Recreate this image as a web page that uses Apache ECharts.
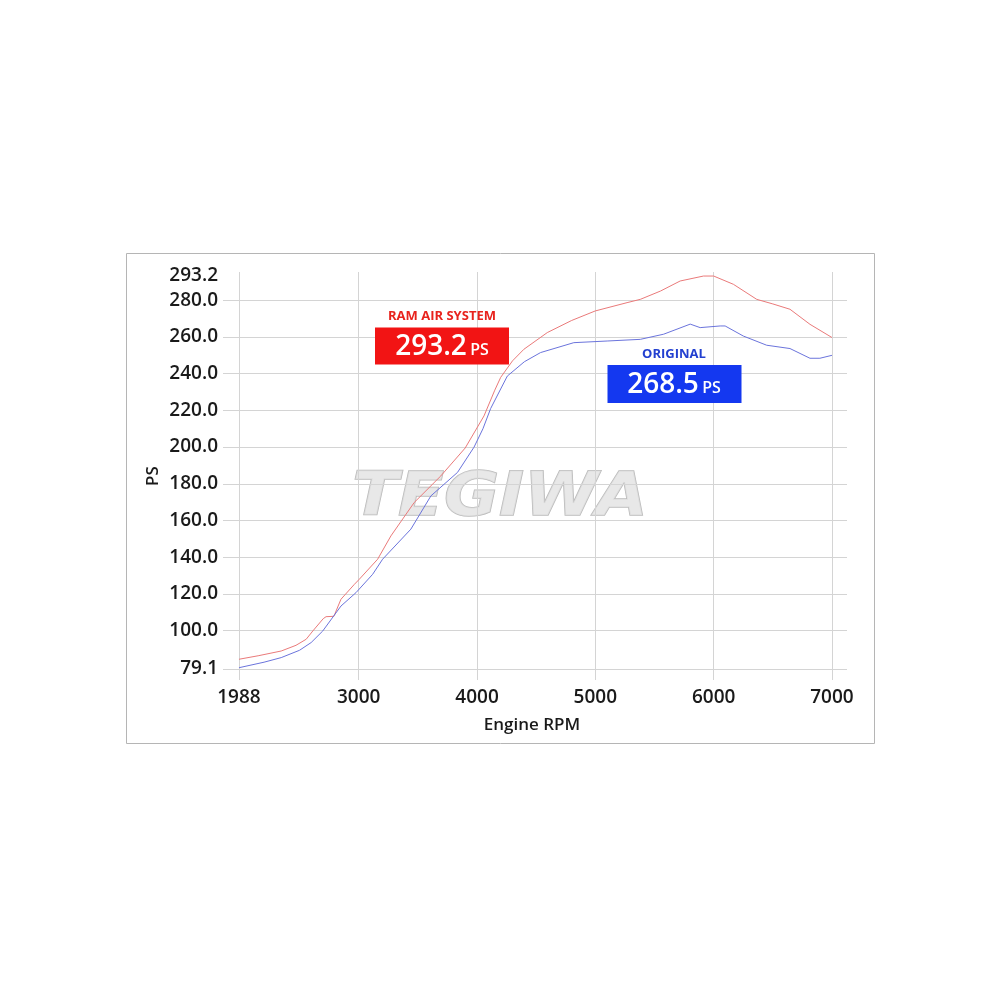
<!DOCTYPE html>
<html>
<head>
<meta charset="utf-8">
<script src="https://cdn.jsdelivr.net/npm/echarts@6/dist/echarts.min.js"></script>
<style>
html,body{margin:0;padding:0;background:#fff;}
#chart{width:1000px;height:1000px;}
</style>
</head>
<body>
<div id="chart"></div>
<script>
// ---- data ----
const xTickValues = [1988, 3000, 4000, 5000, 6000, 7000];
const yTickValues = [79.1, 100, 120, 140, 160, 180, 200, 220, 240, 260, 280, 293.2];
const yGridValues = [79.1, 100, 120, 140, 160, 180, 200, 220, 240, 260, 280];

const ramRpm = [1988, 2150, 2345, 2470, 2556, 2612, 2700, 2724, 2790, 2850, 2963, 3005, 3160, 3272, 3469, 3694, 3900, 4059, 4150, 4200, 4300, 4396, 4594, 4800, 5000, 5268, 5380, 5550, 5717, 5914, 6000, 6167, 6364, 6500, 6645, 6814, 7000];
const ramPs  = [84.4, 86.3, 88.9, 92.0, 95.3, 99.8, 106.5, 107.6, 107.8, 117.1, 125.2, 128.0, 138.9, 151.6, 169.8, 184.3, 199.5, 217.0, 231.0, 238.0, 247.0, 253.3, 262.4, 269.0, 274.2, 278.7, 280.5, 285.0, 290.5, 293.2, 293.2, 288.7, 280.5, 278.0, 275.1, 266.9, 259.7];

const origRpm = [1988, 2200, 2345, 2500, 2598, 2696, 2850, 2977, 3118, 3202, 3441, 3610, 3835, 3975, 4050, 4115, 4256, 4400, 4537, 4818, 5100, 5380, 5577, 5802, 5886, 6055, 6097, 6251, 6448, 6645, 6814, 6898, 7000];
const origPs  = [79.8, 82.8, 85.3, 89.3, 93.5, 99.8, 113.4, 120.7, 130.7, 138.9, 155.3, 173.4, 186.2, 200.0, 210.0, 221.0, 238.7, 246.5, 251.5, 256.9, 257.8, 258.7, 261.5, 267.0, 265.1, 266.0, 266.0, 260.5, 255.5, 253.7, 248.4, 248.4, 250.0];

const ramName = 'RAM AIR SYSTEM';
const ramPeak = '293.2';
const origName = 'ORIGINAL';
const origPeak = '268.5';
const unit = 'PS';
const xTitle = 'Engine RPM';
const yTitle = 'PS';
const watermark = 'TEGIWA';

// ---- chart ----
const chart = echarts.init(document.getElementById('chart'), null, {renderer: 'canvas'});
const FONT = '"Open Sans", "Noto Sans", sans-serif';

const pair = (xs, ys) => xs.map((x, i) => [x, ys[i]]);

const option = {
  animation: false,
  backgroundColor: '#ffffff',
  grid: {left: 223, right: 153, top: 272, bottom: 320, containLabel: false},
  xAxis: {
    type: 'value', min: 1853, max: 7127,
    axisLine: {show: false}, axisTick: {show: false, customValues: xTickValues},
    splitLine: {show: false},
    axisLabel: {
      customValues: xTickValues, margin: 8,
      formatter: v => String(v),
      color: '#1a1a1a', fontSize: 19, fontWeight: 600, fontFamily: FONT
    }
  },
  yAxis: {
    type: 'value', min: 73.1, max: 295.4,
    axisLine: {show: false}, axisTick: {show: false, customValues: yTickValues},
    splitLine: {show: false},
    axisLabel: {
      customValues: yTickValues, margin: 5,
      formatter: v => Number(v).toFixed(1),
      color: '#1a1a1a', fontSize: 19, fontWeight: 600, fontFamily: FONT
    }
  },
  graphic: [
    {type: 'rect', shape: {x: 126.5, y: 253.5, width: 748, height: 490}, style: {fill: 'none', stroke: '#b5b5b5', lineWidth: 1}, z: 0, silent: true},
    {type: 'text', x: 500, y: 499, z: 1, silent: true, scaleX: 1.12,
      style: {text: watermark, font: 'italic bold 60px "DejaVu Sans", sans-serif', fill: 'rgba(228,228,228,0.85)', stroke: '#bcbcbc', lineWidth: 1.5, align: 'center', verticalAlign: 'middle'}},
    {type: 'text', x: 153, y: 476, rotation: Math.PI / 2, z: 10,
      style: {text: yTitle, font: '600 17px ' + FONT, fill: '#1a1a1a', align: 'center', verticalAlign: 'middle'}},
    {type: 'text', x: 532, y: 725, z: 10,
      style: {text: xTitle, font: '600 17px ' + FONT, fill: '#1a1a1a', align: 'center', verticalAlign: 'middle'}},
    // RAM AIR label
    {type: 'text', x: 442, y: 316, z: 10,
      style: {text: ramName, font: 'bold 13px ' + FONT, fill: '#e8231d', align: 'center', verticalAlign: 'middle'}},
    {type: 'rect', shape: {x: 375, y: 327.5, width: 134, height: 37}, style: {fill: '#f21414'}, z: 10},
    {type: 'text', x: 442, y: 347, z: 11,
      style: {
        text: '{a|' + ramPeak + '} {b|' + unit + '}', align: 'center', verticalAlign: 'middle',
        rich: {a: {font: '600 28px ' + FONT, fill: '#ffffff'}, b: {font: '600 16px ' + FONT, fill: '#ffffff', padding: [6, 0, 0, 0]}}
      }},
    // ORIGINAL label
    {type: 'text', x: 674, y: 354, z: 10,
      style: {text: origName, font: 'bold 13px ' + FONT, fill: '#2340d0', align: 'center', verticalAlign: 'middle'}},
    {type: 'rect', shape: {x: 607.5, y: 365, width: 134, height: 38}, style: {fill: '#1438f0'}, z: 10},
    {type: 'text', x: 674, y: 385, z: 11,
      style: {
        text: '{a|' + origPeak + '} {b|' + unit + '}', align: 'center', verticalAlign: 'middle',
        rich: {a: {font: '600 28px ' + FONT, fill: '#ffffff'}, b: {font: '600 16px ' + FONT, fill: '#ffffff', padding: [6, 0, 0, 0]}}
      }}
  ],
  series: [
    {
      name: 'grid', type: 'line', data: [], z: 0, silent: true,
      markLine: {
        silent: true, symbol: 'none', animation: false,
        label: {show: false},
        lineStyle: {color: '#d4d4d4', type: 'solid', width: 1},
        emphasis: {disabled: true},
        data: xTickValues.map(v => ({xAxis: v})).concat(yGridValues.map(v => ({yAxis: v})))
      }
    },
    {
      name: ramName, type: 'line', data: pair(ramRpm, ramPs), showSymbol: false, smooth: false, z: 5,
      lineStyle: {color: '#ea7a7a', width: 1}
    },
    {
      name: origName, type: 'line', data: pair(origRpm, origPs), showSymbol: false, smooth: false, z: 5,
      lineStyle: {color: '#6b74dc', width: 1}
    }
  ]
};
chart.setOption(option);
</script>
</body>
</html>
